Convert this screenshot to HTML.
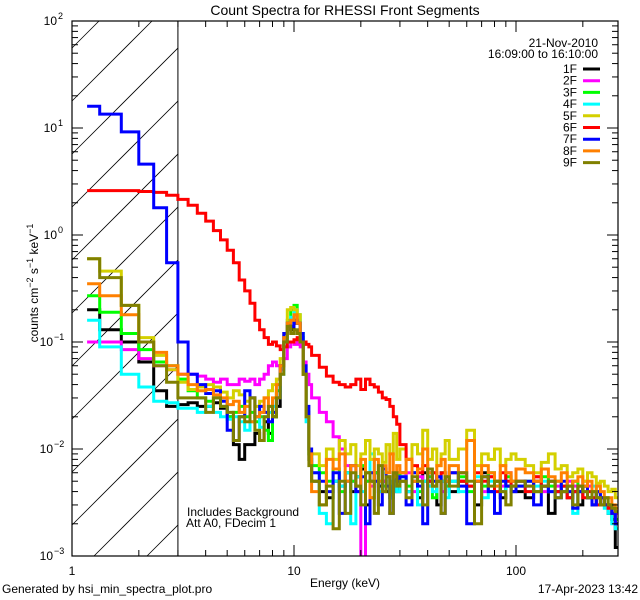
<!DOCTYPE html>
<html><head><meta charset="utf-8">
<style>
html,body{margin:0;padding:0;background:#fff;width:640px;height:600px;overflow:hidden;}
svg{display:block;}
svg text{font-family:"Liberation Sans",sans-serif;font-size:12px;fill:#000;}
</style></head>
<body>
<svg id="chart" width="640" height="600" viewBox="0 0 640 600" xmlns="http://www.w3.org/2000/svg">
<rect x="0" y="0" width="640" height="600" fill="#fff"/>
<text x="345" y="15" text-anchor="middle" style="font-size:14px">Count Spectra for RHESSI Front Segments</text>
<g id="hatch"></g>
<g id="series"></g>
<g id="axes"></g>
<text x="345" y="587" text-anchor="middle">Energy (keV)</text>
<text transform="translate(38,283) rotate(-90)" text-anchor="middle">counts cm<tspan dy="-5" style="font-size:9px">−2</tspan><tspan dy="5"> s</tspan><tspan dy="-5" style="font-size:9px">−1</tspan><tspan dy="5"> keV</tspan><tspan dy="-5" style="font-size:9px">−1</tspan></text>
<text x="598" y="47" text-anchor="end">21-Nov-2010</text>
<text x="598" y="58" text-anchor="end">16:09:00 to 16:10:00</text>
<g id="legend"></g>
<text x="187" y="516">Includes Background</text>
<text x="186" y="527">Att A0, FDecim 1</text>
<text x="2" y="593">Generated by hsi_min_spectra_plot.pro</text>
<text x="638" y="593" text-anchor="end">17-Apr-2023 13:42</text>
</svg>
<script>
const edges=[1.17,1.333,1.667,2,2.333,2.667,3,3.333,3.667,4,4.333,4.667,5,5.333,5.667,6,6.333,6.667,7,7.333,7.667,8,8.333,8.667,9,9.333,9.667,10,10.333,10.667,11,11.333,11.667,12,
13,14,15,16,17,18,19,20,21,22,23,24,25,26,27,28,29,30,
32,34,36,38,40,42,44,46,48,50,
55,60,65,70,75,80,85,90,95,100,
110,120,130,140,150,160,170,180,190,200,210,220,230,240,250,260,270,280,290];
const labels=["1F","2F","3F","4F","5F","6F","7F","8F","9F"];
const colors=["#000000","#ff00ff","#00ff00","#00ffff","#d4d000","#ff0000","#0000ff","#ff8000","#808000"];
const s1F=[0.2,0.13,0.1,0.065,0.035,0.025,0.026,0.027,0.025,0.025,0.027,0.024,0.02,0.011,0.008,0.011,0.011,0.014,0.012,0.018,0.014,0.02,0.025,0.06,0.1,0.14,0.13,0.15,0.15,0.11,0.05,0.02,0.008,
0.005,0.004,0.0035,0.005,0.0045,0.006,0.004,0.0055,0.0065,0.003,0.005,0.006,0.0045,0.005,0.004,0.0035,0.005,0.004,
0.006,0.004,0.005,0.0035,0.006,0.005,0.0045,0.003,0.005,0.0055,
0.004,0.005,0.0045,0.003,0.006,0.004,0.005,0.0035,0.0045,0.004,
0.004,0.0035,0.005,0.0045,0.0025,0.004,0.0045,0.0035,0.004,0.003,0.0045,0.0035,0.003,0.004,0.0035,0.003,0.0025,0.0022,0.0012];
const s2F=[0.1,0.1,0.085,0.07,0.06,0.055,0.05,0.05,0.048,0.045,0.042,0.045,0.04,0.04,0.045,0.043,0.045,0.04,0.045,0.05,0.06,0.065,0.06,0.055,0.07,0.09,0.1,0.095,0.1,0.09,0.065,0.05,0.04,
0.03,0.022,0.018,0.013,0.01,0.007,0.005,0.004,0.0008,0.005,0.0045,0.006,0.004,0.005,0.0055,0.004,0.005,0.006,
0.005,0.006,0.004,0.0055,0.005,0.0045,0.006,0.005,0.004,0.0055,
0.005,0.006,0.0045,0.005,0.004,0.0055,0.005,0.0045,0.006,0.005,
0.005,0.0045,0.0055,0.004,0.005,0.0045,0.004,0.005,0.0045,0.004,0.005,0.0045,0.0035,0.004,0.0035,0.003,0.003,0.0028,0.0025];
const s3F=[0.27,0.19,0.12,0.085,0.065,0.06,0.045,0.035,0.03,0.028,0.03,0.025,0.02,0.022,0.025,0.02,0.022,0.018,0.02,0.015,0.012,0.02,0.035,0.06,0.1,0.16,0.2,0.22,0.18,0.12,0.05,0.02,0.009,
0.007,0.006,0.005,0.0065,0.004,0.006,0.005,0.0045,0.007,0.005,0.0035,0.006,0.005,0.0045,0.0055,0.004,0.005,0.006,
0.005,0.0045,0.006,0.004,0.005,0.0055,0.0035,0.005,0.006,0.0045,
0.005,0.0055,0.004,0.005,0.0045,0.006,0.005,0.004,0.0055,0.005,
0.0045,0.005,0.004,0.0055,0.0045,0.005,0.004,0.0045,0.005,0.004,0.0045,0.0035,0.004,0.0035,0.003,0.0035,0.003,0.0025,0.0022];
const s4F=[0.16,0.09,0.05,0.038,0.028,0.027,0.024,0.024,0.022,0.025,0.022,0.02,0.019,0.02,0.018,0.015,0.018,0.02,0.016,0.02,0.022,0.025,0.03,0.05,0.09,0.14,0.17,0.2,0.16,0.12,0.05,0.018,0.009,
0.006,0.0025,0.002,0.005,0.0045,0.006,0.002,0.0055,0.004,0.006,0.009,0.005,0.004,0.006,0.0045,0.0035,0.005,0.004,
0.0055,0.004,0.006,0.003,0.005,0.0045,0.004,0.0055,0.005,0.0035,
0.005,0.004,0.0045,0.0055,0.0035,0.005,0.0045,0.004,0.005,0.0045,
0.005,0.004,0.0045,0.005,0.004,0.0035,0.0045,0.004,0.0025,0.0045,0.004,0.0035,0.0045,0.004,0.0035,0.0028,0.0025,0.002,0.0018];
const s5F=[0.6,0.46,0.22,0.11,0.075,0.055,0.042,0.036,0.038,0.04,0.038,0.034,0.03,0.035,0.032,0.028,0.03,0.025,0.028,0.03,0.035,0.04,0.045,0.07,0.12,0.2,0.21,0.2,0.18,0.1,0.05,0.022,0.01,
0.009,0.007,0.01,0.008,0.012,0.009,0.011,0.007,0.009,0.012,0.008,0.01,0.009,0.0075,0.011,0.009,0.014,0.008,
0.01,0.008,0.011,0.009,0.015,0.008,0.01,0.007,0.009,0.012,
0.008,0.01,0.015,0.007,0.009,0.008,0.01,0.007,0.008,0.009,
0.008,0.007,0.006,0.0075,0.009,0.0065,0.007,0.0055,0.006,0.0065,0.005,0.006,0.0055,0.0048,0.005,0.0045,0.004,0.0042,0.0035];
const s6F=[2.6,2.6,2.6,2.55,2.5,2.35,2.15,1.9,1.6,1.35,1.1,0.9,0.72,0.55,0.38,0.3,0.23,0.16,0.13,0.11,0.095,0.1,0.092,0.085,0.09,0.1,0.1,0.105,0.11,0.1,0.1,0.095,0.09,
0.075,0.058,0.048,0.042,0.04,0.038,0.04,0.045,0.036,0.045,0.04,0.038,0.034,0.03,0.029,0.025,0.02,0.017,
0.011,0.008,0.007,0.006,0.007,0.005,0.006,0.005,0.006,0.005,
0.006,0.005,0.0045,0.006,0.005,0.0055,0.004,0.006,0.005,0.0045,
0.005,0.004,0.0055,0.0045,0.005,0.004,0.0045,0.0035,0.004,0.0045,0.0035,0.004,0.0035,0.003,0.0035,0.003,0.0028,0.0025,0.002];
const s7F=[16,13.5,9.2,4.6,1.8,0.55,0.1,0.05,0.04,0.033,0.035,0.028,0.015,0.012,0.02,0.035,0.03,0.02,0.025,0.022,0.018,0.022,0.03,0.06,0.12,0.15,0.14,0.16,0.15,0.12,0.06,0.025,0.01,
0.006,0.005,0.004,0.006,0.0025,0.005,0.007,0.004,0.0055,0.002,0.006,0.005,0.003,0.0065,0.0045,0.0025,0.006,0.005,
0.0055,0.003,0.006,0.0045,0.002,0.006,0.005,0.0055,0.0025,0.005,
0.006,0.0045,0.002,0.005,0.0055,0.004,0.0025,0.005,0.0045,0.004,
0.0045,0.005,0.003,0.0045,0.004,0.0035,0.005,0.004,0.0028,0.004,0.0045,0.0035,0.003,0.004,0.0035,0.003,0.003,0.0025,0.002];
const s8F=[0.35,0.27,0.18,0.1,0.08,0.06,0.05,0.04,0.035,0.036,0.032,0.03,0.026,0.028,0.022,0.025,0.018,0.02,0.022,0.03,0.025,0.03,0.04,0.06,0.11,0.15,0.16,0.18,0.15,0.1,0.05,0.02,0.009,
0.004,0.003,0.008,0.0065,0.009,0.005,0.007,0.0045,0.008,0.006,0.0035,0.008,0.005,0.007,0.006,0.009,0.0055,0.007,
0.006,0.008,0.005,0.0065,0.01,0.006,0.0045,0.007,0.008,0.005,
0.007,0.006,0.012,0.005,0.007,0.006,0.0045,0.007,0.006,0.005,
0.0065,0.006,0.005,0.0065,0.0055,0.005,0.006,0.0045,0.005,0.0055,0.0045,0.005,0.004,0.0045,0.004,0.0035,0.0035,0.003,0.0028];
const s9F=[0.6,0.4,0.22,0.1,0.06,0.042,0.03,0.03,0.03,0.022,0.03,0.025,0.022,0.012,0.02,0.018,0.03,0.015,0.012,0.02,0.025,0.02,0.03,0.05,0.1,0.14,0.12,0.13,0.12,0.1,0.05,0.02,0.007,
0.005,0.003,0.0045,0.0018,0.005,0.0025,0.006,0.0045,0.003,0.006,0.005,0.0025,0.007,0.004,0.0055,0.0025,0.006,0.0045,
0.005,0.0035,0.0055,0.005,0.003,0.0065,0.0045,0.005,0.0025,0.0055,
0.0045,0.006,0.005,0.002,0.0055,0.0045,0.005,0.004,0.003,0.0045,
0.005,0.0045,0.004,0.0045,0.005,0.0035,0.004,0.0045,0.003,0.0045,0.004,0.0035,0.004,0.0035,0.003,0.0035,0.003,0.0028,0.0026];
const seriesData=[s1F,s2F,s3F,s4F,s5F,s6F,s7F,s8F,s9F];
const xTickVals=[1,10,100];
const xTickLabels=["1","10","100"];
const yTickExps=[-3,-2,-1,0,1,2];
const atten=3;

const L=72,R=618,T=21,B=556,XMIN=1,XMAX=Math.pow(10,(R-L)/222),YMIN=1e-3,YMAX=100;
const NS="http://www.w3.org/2000/svg";
function xs(e){return L+(Math.log10(e)-Math.log10(XMIN))/(Math.log10(XMAX)-Math.log10(XMIN))*(R-L);}
function ys(v){return B-(Math.log10(v)-Math.log10(YMIN))/(Math.log10(YMAX)-Math.log10(YMIN))*(B-T);}
function mk(tag,attrs,parent){const el=document.createElementNS(NS,tag);for(const k in attrs)el.setAttribute(k,attrs[k]);parent.appendChild(el);return el;}
const svg=document.getElementById('chart');
const defs=mk('defs',{},svg);
const cp=mk('clipPath',{id:'plotclip'},defs);
mk('rect',{x:L,y:T,width:R-L,height:B-T},cp);

const hg=document.getElementById('hatch');
const XA=xs(atten);
for(let c=472-53*12;c<=472+53*6;c+=53){
  const xa=Math.max(L,L+c-B),xb=Math.min(XA,L+c-T);
  if(xb<=xa)continue;
  const ln=mk('line',{x1:xa,y1:c-(xa-L),x2:xb,y2:c-(xb-L),stroke:'#000','stroke-width':0.8},hg);
  
  
}
const av=mk('line',{x1:XA,y1:T,x2:XA,y2:B,stroke:'#000','stroke-width':1},hg);



const sg=document.getElementById('series');
sg.setAttribute('clip-path','url(#plotclip)');
seriesData.forEach((vals,si)=>{
  let d='';
  const n=Math.min(vals.length,edges.length-1);
  for(let i=0;i<n;i++){
    const y=Math.min(ys(vals[i]),B+3);
    const x0=xs(edges[i]),x1=Math.min(xs(edges[i+1]),R);
    d+=(i===0?'M':'L')+x0.toFixed(1)+','+y.toFixed(1)+'L'+x1.toFixed(1)+','+y.toFixed(1);
  }
  const p=mk('path',{d:d,fill:'none',stroke:colors[si],'stroke-width':3,'stroke-linejoin':'miter'},sg);
  
  
});

const ag=document.getElementById('axes');
const fr=mk('rect',{x:L,y:T,width:R-L,height:B-T,fill:'none',stroke:'#000','stroke-width':1.2},ag);


for(let dec=0;dec<3;dec++){
  for(let m=1;m<10;m++){
    const e=Math.pow(10,dec)*m;
    if(e>XMAX)break;
    const x=xs(e),len=(m===1)?11:6;
    const t1=mk('line',{x1:x,y1:B,x2:x,y2:B-len,stroke:'#000','stroke-width':1},ag);
    
    
    const t2=mk('line',{x1:x,y1:T,x2:x,y2:T+len,stroke:'#000','stroke-width':1},ag);
    
    
  }
}
xTickVals.forEach((v,i)=>{
  const t=mk('text',{x:xs(v),y:B+19,'text-anchor':'middle'},ag);
  t.textContent=xTickLabels[i];
  
  
});
yTickExps.forEach((ex)=>{
  for(let m=1;m<10;m++){
    if(ex===2&&m>1)break;
    const v=Math.pow(10,ex)*m,y=ys(v),len=(m===1)?11:6;
    const t1=mk('line',{x1:L,y1:y,x2:L+len,y2:y,stroke:'#000','stroke-width':1},ag);
    
    
    const t2=mk('line',{x1:R,y1:y,x2:R-len,y2:y,stroke:'#000','stroke-width':1},ag);
    
    
  }
  const expStr=(ex<0?'−'+(-ex):String(ex));
  const yy=ys(Math.pow(10,ex))+4;
  const off=(expStr.length>1?9:5);
  const t=mk('text',{x:L-10-off,y:yy,'text-anchor':'end'},ag);
  t.textContent='10';
  
  
  const e=mk('text',{x:L-9-off,y:yy-6,style:'font-size:9px'},ag);
  e.textContent=expStr;
  
  
});

const lg=document.getElementById('legend');
labels.forEach((lb,i)=>{
  const y=69+i*11.7;
  const t=mk('text',{x:577,y:y+4,'text-anchor':'end'},lg);
  t.textContent=lb;
  
  
  const l=mk('line',{x1:583,y1:y,x2:600,y2:y,stroke:colors[i],'stroke-width':3},lg);
  
  
});
</script>
</body></html>
